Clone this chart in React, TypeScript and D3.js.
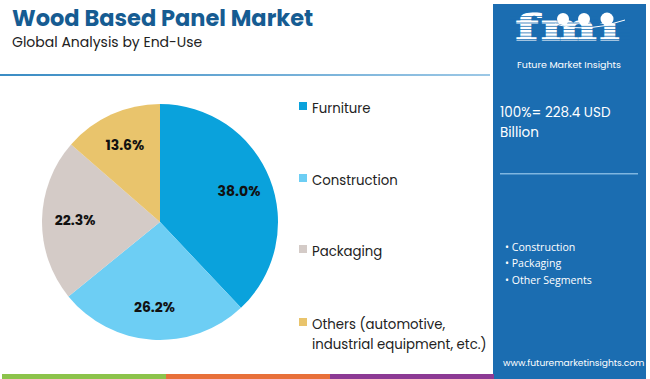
import React from "react";
import * as d3 from "d3";

const categories = ["Furniture", "Construction", "Packaging", "Others (automotive, industrial equipment, etc.)"];
const legendLines = [["Furniture"], ["Construction"], ["Packaging"], ["Others (automotive,", "industrial equipment, etc.)"]];
const values = [38.0, 26.2, 22.3, 13.6];
const colors = ["#0aa2dc", "#6dcef4", "#d4cbc7", "#e9c46c"];
const segments = ["Construction", "Packaging", "Other Segments"];
const title = "Wood Based Panel Market";
const subtitle = "Global Analysis by End-Use";
const totalText = ["100%= 228.4 USD", "Billion"];
const stripColors = ["#8cc34b", "#e8703a", "#8c3a94"];

const W = 650, H = 379;
const font = "Poppins, 'Open Sans', Inter, sans-serif";
const panelBlue = "#1b6db1";

export default function App() {
  const cx = 160, cy = 222, r = 118;
  const pie = d3.pie<number>().sort(null).value((d) => d);
  const arcs = pie(values);
  const arc = d3.arc<d3.PieArcDatum<number>>().innerRadius(0).outerRadius(r);
  const labelArc = d3.arc<d3.PieArcDatum<number>>().innerRadius(r * 0.72).outerRadius(r * 0.72);

  const legendY = [109, 181, 252, 325];
  const stripX = d3.scaleLinear().domain([0, 3]).range([2, 494]);

  return (
    <div style={{ position: "fixed", left: 0, top: 0 }}>
      <svg width={W} height={H} viewBox={`0 0 ${W} ${H}`} style={{ display: "block", background: "#fff" }}>
        <defs>
          <linearGradient id="hl" x1="0" x2="1" y1="0" y2="0">
            <stop offset="0" stopColor="#3a8cc4" />
            <stop offset="1" stopColor="#9cc8e6" />
          </linearGradient>
          <clipPath id="logoClip">
            <rect x={505} y={8} width={130} height={34} />
          </clipPath>
        </defs>
        <rect x={0} y={0} width={W} height={H} fill="#fff" />
        <text x={12} y={25.5} fontFamily={font} fontWeight={700} fontSize={22.5} fill="#165c92">{title}</text>
        <text x={12} y={46.5} fontFamily={font} fontSize={14} fill="#222">{subtitle}</text>
        <rect x={0} y={74} width={490} height={2} fill="url(#hl)" />

        <g transform={`translate(${cx},${cy})`}>
          {arcs.map((a, i) => (
            <path key={i} d={arc(a) || ""} fill={colors[i]} />
          ))}
          {arcs.map((a, i) => {
            const [x, y] = labelArc.centroid(a);
            return (
              <text key={i} x={x} y={y} textAnchor="middle" dy="0.35em" fontFamily={font} fontWeight={700} fontSize={14} fill="#111">
                {values[i].toFixed(1)}%
              </text>
            );
          })}
        </g>

        {legendLines.map((lines, i) => (
          <g key={i}>
            <rect x={299} y={legendY[i] - 7} width={8} height={8} fill={colors[i]} />
            {lines.map((t, j) => (
              <text key={j} x={312} y={legendY[i] + 4 + j * 20} fontFamily={font} fontSize={13.3} fill="#222">{t}</text>
            ))}
          </g>
        ))}

        {/* right panel */}
        <rect x={493} y={4} width={153} height={375} fill={panelBlue} />
        <g fill="#fff">
          <g clipPath="url(#logoClip)">
            <text transform="translate(569,40) scale(1.5,1)" textAnchor="middle" fontFamily="'DejaVu Serif', serif" fontWeight={700} fontSize={35} letterSpacing={2} stroke="#fff" strokeWidth={1.2}>fmi</text>
            {d3.range(0, 8).map((k) => (
              <rect key={k} x={510} y={16 + k * 3.3} width={120} height={0.8} fill={panelBlue} />
            ))}
          </g>
          <rect x={598} y={6} width={22} height={17} fill={panelBlue} />
          <circle cx={563} cy={19} r={6} fill="#fff" />
          <circle cx={584} cy={19} r={6} fill="#fff" />
          <circle cx={607} cy={19} r={6.5} fill="#fff" />
          <path d="M555,24 Q585,34 625,20" fill="none" stroke="#fff" strokeWidth={1} />
          <text x={569} y={68} textAnchor="middle" fontFamily={font} fontSize={9.5}>Future Market Insights</text>
        </g>
        {totalText.map((t, i) => (
          <text key={i} x={500} y={117 + i * 20} fontFamily={font} fontSize={13.5} fill="#fff">{t}</text>
        ))}
        <rect x={500} y={173} width={138} height={1.5} fill="#7fb6e0" />
        {segments.map((s, i) => (
          <text key={i} x={505} y={251 + i * 15.5 + (i === 2 ? 2 : 0)} fontFamily="'Open Sans', sans-serif" fontSize={10.6} fill="#fff">• {s}</text>
        ))}
        <text x={503} y={366} fontFamily={font} fontSize={9.1} fill="#fff">www.futuremarketinsights.com</text>

        {stripColors.map((c, i) => (
          <rect key={i} x={stripX(i)} y={374} width={stripX(i + 1) - stripX(i)} height={5} fill={c} />
        ))}
      </svg>
    </div>
  );
}
